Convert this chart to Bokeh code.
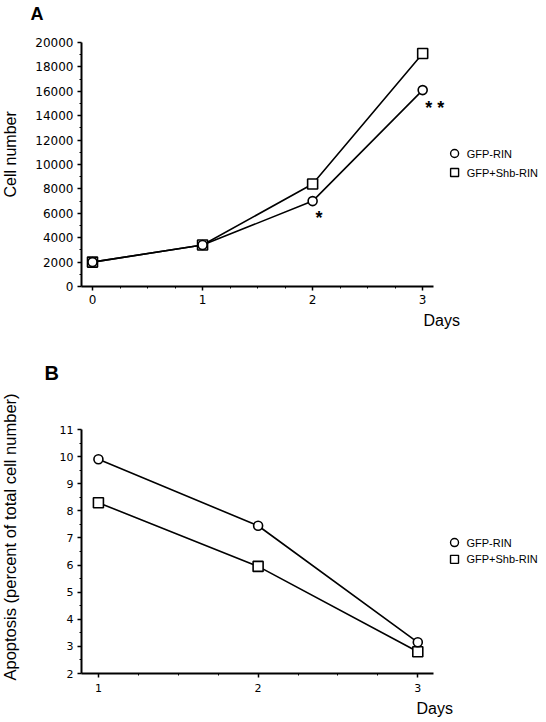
from bokeh.plotting import figure
from bokeh.layouts import column
from bokeh.models import FixedTicker, Range1d, Title
from bokeh.core.properties import value
from bokeh.embed import file_html
from bokeh.resources import INLINE

# ---------------- data ----------------
series_names = ["GFP-RIN", "GFP+Shb-RIN"]

days_a = [0, 1, 2, 3]
cells_gfp_rin = [2000, 3400, 7000, 16100]
cells_gfp_shb = [2000, 3400, 8400, 19100]
y_ticks_a = [0, 2000, 4000, 6000, 8000, 10000, 12000, 14000, 16000, 18000, 20000]
x_ticks_a = [0, 1, 2, 3]

days_b = [1, 2, 3]
apop_gfp_rin = [9.9, 7.45, 3.15]
apop_gfp_shb = [8.3, 5.95, 2.8]
y_ticks_b = [2, 3, 4, 5, 6, 7, 8, 9, 10, 11]
x_ticks_b = [1, 2, 3]

FONT = "Liberation Sans"
TICKFONT = "DejaVu Sans"


def style(p, xb, yb, xticks, xminor, yticks, yminor, tick_fs, x_standoff):
    p.xgrid.visible = False
    p.ygrid.visible = False
    p.outline_line_color = None
    p.background_fill_color = "white"
    p.border_fill_color = "white"
    for ax in (p.xaxis[0], p.yaxis[0]):
        ax.axis_line_width = 2
        ax.axis_line_color = "black"
        ax.major_tick_line_width = 1.5
        ax.minor_tick_line_width = 1
        ax.major_tick_line_color = "black"
        ax.minor_tick_line_color = "black"
        ax.major_tick_in = 0
        ax.major_tick_out = 4
        ax.minor_tick_in = 0
        ax.minor_tick_out = 2
        ax.major_label_text_font = TICKFONT
        ax.major_label_text_font_size = tick_fs
        ax.major_label_text_color = "black"
        ax.major_label_standoff = 4
    p.xaxis[0].major_label_standoff = x_standoff
    p.xaxis[0].bounds = xb
    p.yaxis[0].bounds = yb
    p.xaxis[0].ticker = FixedTicker(ticks=xticks, minor_ticks=xminor)
    p.yaxis[0].ticker = FixedTicker(ticks=yticks, minor_ticks=yminor)


def draw_series(p, x, y1, y2, size_c, size_s):
    p.line(x, y2, line_color="black", line_width=1.6)
    p.line(x, y1, line_color="black", line_width=1.6)
    p.scatter(x, y2, marker="square", size=size_s, fill_color="white",
              line_color="black", line_width=1.6)
    p.scatter(x, y1, marker="circle", size=size_c, fill_color="white",
              line_color="black", line_width=1.6)


def add_title(p, side, text, align="left", offset=0, size="16px", bold=False,
              standoff=0, valign="top"):
    p.add_layout(Title(text=text, align=align, offset=offset, standoff=standoff,
                       vertical_align=valign, text_font=FONT, text_font_size=size,
                       text_font_style="bold" if bold else "normal",
                       text_color="black"), side)


def add_spacer(p, side, standoff):
    p.add_layout(Title(text=" ", text_font_size="1px", standoff=standoff), side)


# ---------------- panel A ----------------
W = 546
HA = 390
pa = figure(width=W, height=HA, output_backend="svg", toolbar_location=None,
            x_range=Range1d(-0.1, 4.125), y_range=Range1d(0, 20000),
            min_border_left=80, min_border_right=0, min_border_top=42,
            min_border_bottom=104)
minor_a_x = [i * 0.25 for i in range(0, 13) if (i % 4) != 0]
minor_a_y = [1000 + 2000 * i for i in range(10)]
style(pa, (-0.1, 3.1), (0, 20000), x_ticks_a, minor_a_x, y_ticks_a, minor_a_y, "12px", 4)
draw_series(pa, days_a, cells_gfp_rin, cells_gfp_shb, 9, 10)

leg_ax, leg_tx = 3.29, 3.40
leg_ay = [10900, 9340]
pa.scatter([leg_ax], [leg_ay[0]], marker="circle", size=8, fill_color="white",
           line_color="black", line_width=1.4)
pa.scatter([leg_ax], [leg_ay[1]], marker="square", size=8, fill_color="white",
           line_color="black", line_width=1.4)
pa.text([leg_tx, leg_tx], leg_ay, text=series_names, text_font=value(FONT),
        text_font_size="11px", text_baseline="middle", text_align="left",
        text_color="black")

pa.text([2.058], [5630], text=["*"], text_font=value(FONT), text_font_size="18px",
        text_font_style="bold", text_align="center", text_baseline="middle")
pa.text([3.11], [14630], text=["* *"], text_font=value(FONT), text_font_size="18px",
        text_font_style="bold", text_align="center", text_baseline="middle")

# above: spacer then panel letter
add_spacer(pa, "above", 14)
add_title(pa, "above", "A", offset=-51, size="18px", bold=True)
# left: spacer then axis title
add_spacer(pa, "left", 9)
add_title(pa, "left", "Cell number", offset=89, size="16px")
# below: "Days", spacer, then the letter of the next panel
add_title(pa, "below", "Days", offset=342, size="16px", standoff=10)
add_spacer(pa, "below", 23)
add_title(pa, "below", "B", offset=-37, size="20px", bold=True)

# ---------------- panel B ----------------
HB = 722 - HA
pb = figure(width=W, height=HB, output_backend="svg", toolbar_location=None,
            x_range=Range1d(0.894, 3.806), y_range=Range1d(2, 11),
            min_border_left=80, min_border_right=0, min_border_top=39,
            min_border_bottom=49)
minor_b_x = [1 + i * 0.25 for i in range(1, 9) if (i % 4) != 0]
minor_b_y = [2.5 + i for i in range(9)]
style(pb, (0.894, 3.1), (2, 11), x_ticks_b, minor_b_x, y_ticks_b, minor_b_y, "11px", 6)
draw_series(pb, days_b, apop_gfp_rin, apop_gfp_shb, 9, 10)

leg_bx, leg_btx = 3.23, 3.305
leg_by = [6.83, 6.21]
pb.scatter([leg_bx], [leg_by[0]], marker="circle", size=8, fill_color="white",
           line_color="black", line_width=1.4)
pb.scatter([leg_bx], [leg_by[1]], marker="square", size=8, fill_color="white",
           line_color="black", line_width=1.4)
pb.text([leg_btx, leg_btx], leg_by, text=series_names, text_font=value(FONT),
        text_font_size="11px", text_baseline="middle", text_align="left",
        text_color="black")

add_title(pb, "below", "Days", offset=335, size="16px", standoff=6, valign="bottom")
add_spacer(pb, "left", 33)
add_title(pb, "left", "Apoptosis (percent of total cell number)", offset=-7,
          size="16.5px")

layout = column(pa, pb, spacing=0)
open("out.html", "w").write(file_html(layout, INLINE))
